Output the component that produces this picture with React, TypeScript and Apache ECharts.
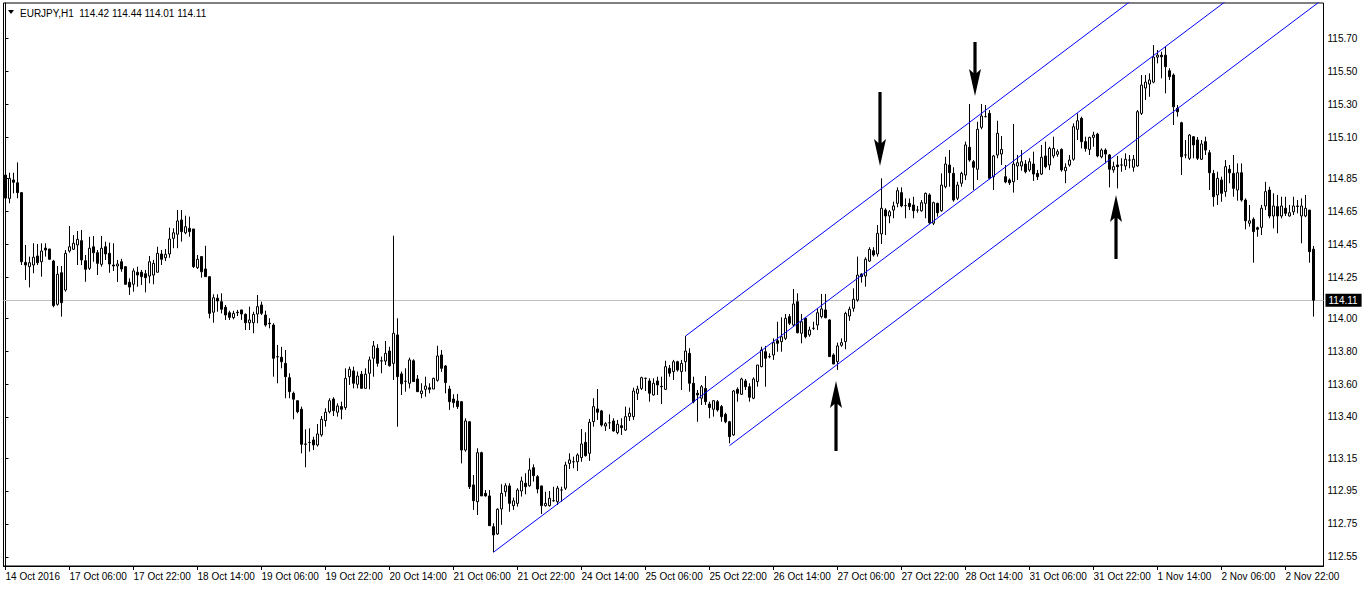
import React, { useEffect, useRef } from "react";
import * as echarts from "echarts";

const symbolTitle = "EURJPY,H1";
const headerPrices = ["114.42", "114.44", "114.01", "114.11"];
const xLabels = [
  "14 Oct 2016", "17 Oct 06:00", "17 Oct 22:00", "18 Oct 14:00", "19 Oct 06:00", "19 Oct 22:00",
  "20 Oct 14:00", "21 Oct 06:00", "21 Oct 22:00", "24 Oct 14:00", "25 Oct 06:00", "25 Oct 22:00",
  "26 Oct 14:00", "27 Oct 06:00", "27 Oct 22:00", "28 Oct 14:00", "31 Oct 06:00", "31 Oct 22:00",
  "1 Nov 14:00", "2 Nov 06:00", "2 Nov 22:00",
];
const LABEL_STEP = 16;
const EXTRA_SLOTS = 2;
const yTicks = [112.55, 112.75, 112.95, 113.15, 113.4, 113.6, 113.8, 114.0, 114.25, 114.45, 114.65, 114.85, 115.1, 115.3, 115.5, 115.7];
const yMin = 112.494;
const yMax = 115.917;
const lastPrice = 114.11;

const opens = [
  114.871,114.729,114.841,114.824,114.764,114.340,114.314,114.324,114.379,114.344,
  114.427,114.421,114.348,114.085,114.277,114.172,114.409,114.420,114.446,114.472,
  114.350,114.304,114.435,114.399,114.328,114.435,114.395,114.324,114.318,114.344,
  114.314,114.219,114.207,114.280,114.280,114.271,114.257,114.263,114.280,114.391,
  114.368,114.391,114.486,114.511,114.598,114.520,114.547,114.543,114.308,114.375,
  114.300,114.253,114.037,114.122,114.101,114.067,114.034,114.004,114.037,114.051,
  114.024,113.973,113.973,114.026,114.081,114.020,113.970,113.959,113.767,113.763,
  113.726,113.639,113.544,113.499,113.447,113.236,113.245,113.260,113.230,113.291,
  113.378,113.432,113.509,113.429,113.463,113.457,113.645,113.680,113.599,113.660,
  113.574,113.666,113.757,113.818,113.740,113.740,113.801,113.726,113.899,113.662,
  113.617,113.605,113.742,113.631,113.542,113.568,113.578,113.570,113.623,113.777,
  113.710,113.570,113.509,113.497,113.493,113.199,113.371,112.987,112.885,113.183,
  112.936,112.920,112.733,112.689,112.841,112.946,112.981,112.861,112.875,112.950,
  112.997,112.982,113.092,113.037,112.981,112.861,112.861,112.891,112.885,112.956,
  112.967,113.118,113.128,113.128,113.153,113.246,113.179,113.372,113.449,113.437,
  113.345,113.365,113.376,113.305,113.347,113.321,113.402,113.402,113.544,113.574,
  113.635,113.619,113.534,113.619,113.587,113.568,113.696,113.676,113.736,113.676,
  113.736,113.787,113.605,113.544,113.514,113.574,113.479,113.447,113.493,113.463,
  113.416,113.371,113.291,113.568,113.538,113.619,113.584,113.514,113.615,113.706,
  113.797,113.767,113.777,113.864,113.858,113.878,114.010,113.959,114.101,113.909,
  114.000,113.899,113.939,113.959,114.010,114.051,113.990,113.777,113.736,113.836,
  113.858,114.014,114.061,114.111,114.269,114.257,114.348,114.411,114.391,114.513,
  114.658,114.622,114.658,114.699,114.764,114.685,114.699,114.689,114.658,114.654,
  114.699,114.750,114.578,114.699,114.654,114.800,114.932,114.881,114.730,114.821,
  114.871,115.040,114.952,114.906,115.161,115.226,115.246,114.861,114.993,114.999,
  114.861,114.841,114.830,114.926,114.926,114.938,114.902,114.938,114.881,114.877,
  114.987,114.932,114.987,114.997,115.027,114.897,114.932,114.967,115.149,115.216,
  115.074,115.027,115.100,115.120,114.982,115.023,114.993,114.902,114.932,114.932,
  114.926,114.962,114.918,114.926,115.246,115.400,115.424,115.436,115.588,115.600,
  115.600,115.505,115.479,115.277,115.189,114.993,114.973,115.104,115.084,114.967,
  115.074,115.007,114.881,114.750,114.841,114.770,114.906,114.881,114.780,114.885,
  114.719,114.578,114.602,114.551,114.553,114.683,114.780,114.622,114.679,114.622,
  114.669,114.622,114.648,114.683,114.622,114.622,114.658,114.420,
];
const highs = [
  114.932,114.885,114.885,114.948,114.768,114.446,114.375,114.456,114.452,114.456,
  114.456,114.423,114.355,114.318,114.318,114.415,114.561,114.506,114.531,114.537,
  114.385,114.496,114.500,114.415,114.500,114.466,114.460,114.456,114.355,114.361,
  114.318,114.243,114.304,114.314,114.294,114.294,114.379,114.355,114.435,114.415,
  114.421,114.551,114.547,114.658,114.658,114.624,114.618,114.543,114.385,114.379,
  114.441,114.257,114.146,114.146,114.152,114.081,114.046,114.046,114.051,114.051,
  114.030,114.071,114.040,114.142,114.101,114.046,114.000,113.970,113.838,113.827,
  113.807,113.666,113.554,113.499,113.463,113.325,113.331,113.280,113.357,113.406,
  113.453,113.514,113.520,113.483,113.493,113.696,113.706,113.706,113.676,113.680,
  113.696,113.767,113.862,113.842,113.767,113.862,113.827,114.502,114.000,113.676,
  113.696,113.761,113.751,113.655,113.605,113.645,113.605,113.639,113.833,113.807,
  113.716,113.590,113.538,113.540,113.497,113.392,113.376,113.047,113.210,113.189,
  112.956,112.956,112.754,112.845,112.991,112.997,112.997,112.910,112.967,113.037,
  113.058,113.149,113.112,113.047,112.981,112.946,112.950,112.976,112.981,112.976,
  113.128,113.179,113.159,113.179,113.327,113.307,113.388,113.514,113.570,113.443,
  113.368,113.416,113.392,113.382,113.392,113.463,113.457,113.578,113.590,113.645,
  113.639,113.635,113.635,113.645,113.645,113.742,113.716,113.747,113.742,113.747,
  113.892,113.818,113.645,113.564,113.594,113.649,113.493,113.503,113.503,113.473,
  113.426,113.376,113.564,113.580,113.639,113.631,113.605,113.641,113.716,113.827,
  113.832,113.787,113.878,113.979,114.006,114.026,114.026,114.178,114.152,114.026,
  114.006,113.949,113.979,114.061,114.148,114.148,113.994,113.787,113.852,113.878,
  114.040,114.071,114.182,114.375,114.274,114.371,114.432,114.432,114.567,114.851,
  114.669,114.658,114.709,114.796,114.796,114.729,114.729,114.739,114.683,114.719,
  114.764,114.760,114.709,114.703,114.881,114.982,115.023,114.918,114.830,114.891,
  115.074,115.303,114.962,115.195,115.303,115.297,115.266,114.993,115.201,115.108,
  114.932,114.851,115.181,114.993,115.023,114.962,114.973,115.013,114.902,115.054,
  115.074,115.043,115.104,115.027,115.033,114.942,114.993,115.185,115.246,115.226,
  115.104,115.104,115.134,115.128,115.033,115.033,114.999,114.952,114.987,114.973,
  115.003,114.993,114.993,115.266,115.479,115.479,115.489,115.661,115.631,115.621,
  115.651,115.520,115.489,115.297,115.195,115.084,115.120,115.108,115.102,115.084,
  115.104,115.023,114.902,114.891,114.861,114.962,114.932,114.993,114.942,114.942,
  114.729,114.689,114.614,114.557,114.689,114.830,114.800,114.760,114.750,114.739,
  114.739,114.689,114.739,114.719,114.729,114.750,114.658,114.440,
];
const lows = [
  114.719,114.699,114.760,114.730,114.324,114.233,114.188,114.274,114.324,114.253,
  114.375,114.355,114.067,114.077,114.010,114.162,114.399,114.415,114.324,114.324,
  114.222,114.294,114.344,114.263,114.314,114.355,114.277,114.288,114.221,114.283,
  114.203,114.142,114.162,114.192,114.203,114.158,114.213,114.207,114.280,114.324,
  114.348,114.368,114.426,114.426,114.466,114.511,114.496,114.306,114.300,114.247,
  114.253,114.000,113.973,114.040,114.030,113.990,113.990,113.994,114.014,113.990,
  113.929,113.929,113.909,113.970,114.020,113.949,113.939,113.645,113.605,113.696,
  113.514,113.514,113.386,113.422,113.179,113.094,113.189,113.199,113.220,113.280,
  113.341,113.422,113.406,113.402,113.386,113.443,113.595,113.574,113.574,113.574,
  113.574,113.568,113.645,113.706,113.666,113.716,113.706,113.625,113.341,113.534,
  113.554,113.574,113.615,113.554,113.514,113.523,113.544,113.570,113.615,113.674,
  113.544,113.443,113.457,113.449,113.118,113.189,112.962,112.835,112.804,112.920,
  112.916,112.739,112.578,112.683,112.744,112.916,112.824,112.835,112.855,112.916,
  112.930,112.976,113.007,112.936,112.810,112.855,112.855,112.885,112.865,112.885,
  112.956,113.084,113.088,113.072,113.128,113.159,113.133,113.341,113.382,113.341,
  113.315,113.327,113.311,113.295,113.291,113.315,113.376,113.382,113.503,113.564,
  113.558,113.493,113.530,113.534,113.479,113.564,113.645,113.625,113.676,113.564,
  113.676,113.554,113.483,113.371,113.473,113.473,113.392,113.402,113.432,113.371,
  113.362,113.240,113.285,113.493,113.534,113.564,113.493,113.508,113.584,113.702,
  113.584,113.757,113.747,113.797,113.797,113.868,113.959,113.949,113.909,113.848,
  113.878,113.888,113.929,113.929,114.000,114.000,113.767,113.722,113.686,113.827,
  113.812,113.985,114.040,114.101,114.217,114.192,114.344,114.375,114.375,114.452,
  114.506,114.578,114.608,114.675,114.675,114.608,114.658,114.608,114.642,114.648,
  114.608,114.573,114.567,114.618,114.648,114.790,114.800,114.709,114.719,114.800,
  114.841,114.952,114.780,114.841,115.149,115.222,114.845,114.780,114.973,114.932,
  114.821,114.810,114.764,114.841,114.897,114.881,114.891,114.835,114.841,114.871,
  114.912,114.902,114.973,114.982,114.891,114.821,114.922,114.958,115.084,115.033,
  115.013,114.993,115.043,114.979,114.973,114.942,114.796,114.885,114.790,114.891,
  114.902,114.912,114.891,114.922,115.236,115.327,115.347,115.429,115.550,115.459,
  115.368,115.449,115.175,115.226,114.871,114.973,114.962,114.973,114.962,114.962,
  114.993,114.780,114.679,114.689,114.709,114.739,114.821,114.739,114.715,114.709,
  114.541,114.557,114.338,114.496,114.506,114.658,114.608,114.547,114.517,114.608,
  114.622,114.618,114.628,114.638,114.456,114.615,114.338,114.010,
];
const closes = [
  114.731,114.851,114.827,114.764,114.344,114.324,114.338,114.371,114.338,114.409,
  114.415,114.359,114.077,114.268,114.095,114.395,114.435,114.456,114.480,114.355,
  114.298,114.426,114.399,114.334,114.426,114.391,114.330,114.318,114.330,114.300,
  114.207,114.190,114.288,114.263,114.253,114.247,114.344,114.334,114.395,114.359,
  114.389,114.482,114.520,114.592,114.527,114.557,114.527,114.314,114.359,114.283,
  114.253,114.030,114.125,114.105,114.055,114.020,114.006,114.030,114.034,114.026,
  113.973,113.990,114.024,114.071,114.030,113.959,113.967,113.757,113.766,113.736,
  113.645,113.554,113.508,113.432,113.234,113.234,113.246,113.230,113.297,113.386,
  113.429,113.499,113.438,113.467,113.447,113.635,113.690,113.605,113.649,113.574,
  113.660,113.747,113.832,113.726,113.742,113.787,113.712,113.909,113.645,113.602,
  113.617,113.747,113.615,113.554,113.558,113.588,113.568,113.635,113.771,113.696,
  113.609,113.493,113.487,113.463,113.199,113.376,112.976,112.891,113.183,112.920,
  112.920,112.739,112.683,112.839,112.936,112.982,112.875,112.890,112.956,113.011,
  112.976,113.078,113.043,112.962,112.861,112.875,112.906,112.891,112.967,112.956,
  113.108,113.139,113.128,113.169,113.236,113.165,113.368,113.463,113.429,113.351,
  113.359,113.365,113.315,113.356,113.335,113.402,113.423,113.558,113.570,113.639,
  113.635,113.544,113.605,113.595,113.584,113.706,113.666,113.736,113.686,113.726,
  113.801,113.605,113.493,113.534,113.584,113.493,113.457,113.499,113.443,113.402,
  113.371,113.280,113.558,113.544,113.631,113.584,113.520,113.631,113.716,113.807,
  113.757,113.767,113.852,113.848,113.888,114.000,113.970,114.087,113.912,113.979,
  113.888,113.929,113.939,114.034,114.057,114.004,113.767,113.722,113.832,113.852,
  114.030,114.055,114.116,114.263,114.253,114.359,114.419,114.385,114.517,114.669,
  114.622,114.648,114.683,114.776,114.683,114.685,114.679,114.654,114.658,114.703,
  114.760,114.581,114.703,114.642,114.810,114.938,114.885,114.719,114.810,114.881,
  115.054,114.962,114.918,115.149,115.230,115.226,114.851,114.987,115.125,115.027,
  114.829,114.824,114.938,114.946,114.952,114.891,114.952,114.877,114.861,114.979,
  114.922,115.033,115.033,115.013,114.902,114.918,114.962,115.165,115.201,115.074,
  115.033,115.100,115.114,114.987,115.023,114.999,114.906,114.922,114.922,114.932,
  114.967,114.962,114.967,115.256,115.418,115.436,115.449,115.588,115.600,115.590,
  115.530,115.469,115.286,115.256,114.982,114.993,115.114,115.054,114.973,115.060,
  115.023,114.885,114.739,114.851,114.760,114.922,114.885,114.790,114.885,114.719,
  114.593,114.593,114.527,114.541,114.669,114.770,114.622,114.683,114.622,114.683,
  114.638,114.642,114.683,114.680,114.683,114.669,114.405,114.110,
];

// channel lines: [barIndex, price] start and end (ends run past the top and are clipped)
const channelStarts = [[122, 112.578], [170, 113.892], [181, 113.226]];
const channelEnds = [[320, 116.201], [320, 116.637], [329, 115.934]];

// arrow annotations: bar position, tip price, tail price
const arrowBars = [207.7, 277.55, 218.7, 242.4];
const arrowTips = [113.619, 114.75, 114.926, 115.351];
const arrowTails = [113.193, 114.361, 115.376, 115.68];

const FONT = "Liberation Sans";

export default function App() {
  const ref = useRef<HTMLDivElement>(null);
  useEffect(() => {
    if (!ref.current) return;
    const chart = echarts.init(ref.current, null, { renderer: "svg" });
    const total = opens.length + EXTRA_SLOTS;
    const cats = Array.from({ length: total }, (_, i) =>
      i % LABEL_STEP === 0 && i / LABEL_STEP < xLabels.length ? xLabels[i / LABEL_STEP] : "b" + i
    );
    const candles = opens.map((o, i) => [o, closes[i], lows[i], highs[i]]);
    const isLabel = (i: number) => i % LABEL_STEP === 0 && i / LABEL_STEP < xLabels.length;

    const lineSeries = channelStarts.map((s, k) => ({
      type: "line",
      xAxisIndex: 1,
      yAxisIndex: 0,
      data: [s, channelEnds[k]],
      symbol: "none",
      silent: true,
      clip: true,
      z: 5,
      lineStyle: { color: "#0000ff", width: 1 },
    }));

    chart.setOption({
      animation: false,
      backgroundColor: "#ffffff",
      textStyle: { fontFamily: FONT },
      grid: {
        left: 3.5,
        right: 42.5,
        top: 3,
        bottom: 23,
        show: true,
        borderColor: "#000",
        borderWidth: 1,
        backgroundColor: "#fff",
      },
      xAxis: [
        {
          type: "category",
          data: cats,
          boundaryGap: true,
          axisLine: { show: true, lineStyle: { color: "#000", width: 1 } },
          axisTick: {
            show: true,
            interval: (i: number) => isLabel(i),
            alignWithLabel: true,
            length: 4,
            lineStyle: { color: "#000" },
          },
          axisLabel: {
            interval: (i: number) => isLabel(i),
            align: "left",
            color: "#000",
            fontSize: 10,
            fontFamily: FONT,
            margin: 5,
          },
          splitLine: { show: false },
        },
        { type: "value", min: -0.5, max: total - 0.5, show: false },
      ],
      yAxis: {
        type: "value",
        position: "right",
        min: yMin,
        max: yMax,
        axisLine: { show: true, lineStyle: { color: "#000", width: 1 } },
        axisTick: { show: true, customValues: yTicks, length: 3, lineStyle: { color: "#000" } },
        axisLabel: {
          customValues: yTicks,
          formatter: (v: number) => v.toFixed(2),
          color: "#000",
          fontSize: 10,
          fontFamily: FONT,
          margin: 4,
        },
        splitLine: { show: false },
      },
      series: [
        {
          type: "candlestick",
          data: candles,
          barWidth: 2,
          z: 3,
          itemStyle: {
            color: "#ffffff",
            color0: "#000000",
            borderColor: "#000000",
            borderColor0: "#000000",
            borderColorDoji: "#000000",
            borderWidth: 1,
          },
          markLine: {
            silent: true,
            symbol: ["none", "none"],
            z: 1,
            data: [{ yAxis: lastPrice }],
            lineStyle: { color: "#c0c0c0", width: 1, type: "solid" },
            label: {
              show: true,
              position: "end",
              formatter: lastPrice.toFixed(2),
              color: "#fff",
              backgroundColor: "#000",
              padding: [2, 4, 1, 3],
              fontSize: 10,
              fontFamily: FONT,
              distance: 2,
            },
          },
        },
        ...lineSeries,
      ],
    });

    const toPx = (x: number, y: number) =>
      chart.convertToPixel({ xAxisIndex: 1, yAxisIndex: 0 } as any, [x, y]) as number[];
    const arrowGraphics = arrowBars.map((b, k) => {
      const tip = toPx(b, arrowTips[k]);
      const tail = toPx(b, arrowTails[k]);
      const x = Math.round(tip[0]);
      const yt = tip[1];
      const yb = tail[1];
      const d = yb > yt ? 1 : -1;
      const head = 27;
      const neck = 23;
      const hw = 6;
      const sw = 1.6;
      return {
        type: "polygon",
        z: 100,
        shape: {
          points: [
            [x, yt],
            [x + hw, yt + d * head],
            [x + sw, yt + d * neck],
            [x + sw, yb],
            [x - sw, yb],
            [x - sw, yt + d * neck],
            [x - hw, yt + d * head],
          ],
        },
        style: { fill: "#000" },
        silent: true,
      };
    });

    chart.setOption({
      graphic: [
        ...arrowGraphics,
        {
          type: "polygon",
          z: 100,
          shape: { points: [[8, 10], [14, 10], [11, 14]] },
          style: { fill: "#000" },
          silent: true,
        },
        {
          type: "text",
          z: 100,
          left: 20,
          top: 8,
          style: {
            text: symbolTitle + "  " + headerPrices.join(" "),
            fill: "#000",
            font: "10px " + FONT,
          },
          silent: true,
        },
      ],
    });

    return () => chart.dispose();
  }, []);

  return (
    <div
      ref={ref}
      style={{ position: "fixed", left: 0, top: 0, width: 1366, height: 589, background: "#fff" }}
    />
  );
}
